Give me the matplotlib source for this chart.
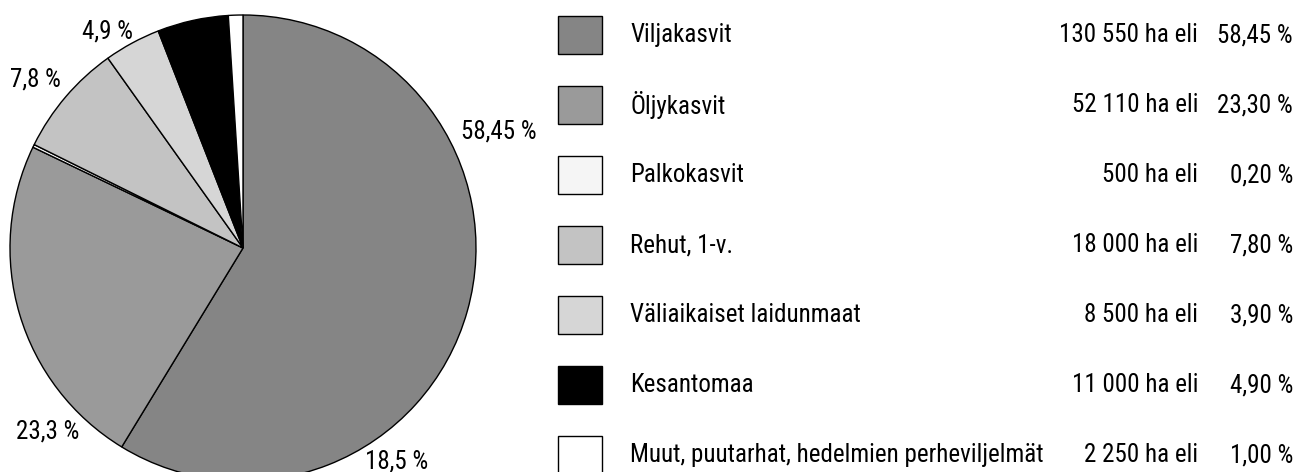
import matplotlib
matplotlib.use("Agg")
import matplotlib.pyplot as plt
from matplotlib.patches import Rectangle

categories = ["Viljakasvit", "Öljykasvit", "Palkokasvit", "Rehut, 1-v.",
              "Väliaikaiset laidunmaat", "Kesantomaa",
              "Muut, puutarhat, hedelmien perheviljelmät"]
hectares = ["130 550", "52 110", "500", "18 000", "8 500", "11 000", "2 250"]
percent = [58.45, 23.30, 0.20, 7.80, 3.90, 4.90, 1.00]
percent_labels = ["58,45 %", "23,30 %", "0,20 %", "7,80 %", "3,90 %", "4,90 %", "1,00 %"]
colors = ["#858585", "#9a9a9a", "#f5f5f5", "#c3c3c3", "#d6d6d6", "#000000", "#ffffff"]
# labels printed around the pie in the original
pie_labels = ["58,45 %", "23,3 %", "18,5 %", "7,8 %", "4,9 %"]

plt.rcParams['font.family'] = ['Roboto Condensed', 'DejaVu Sans']

W, H = 1301, 472
fig = plt.figure(figsize=(W / 100, H / 100), dpi=100)
ax = fig.add_axes([0, 0, 1, 1])

cx, cy, R = 243, H - 248, 233
ax.pie(percent, colors=colors, startangle=90, counterclock=False,
       center=(cx, cy), radius=R, frame=True,
       wedgeprops=dict(edgecolor='black', linewidth=1.0))
ax.set_xlim(0, W)
ax.set_ylim(0, H)
ax.set_aspect('equal')
ax.axis('off')

fs = 18
label_pos = [(499, 132), (48, 432), (397, 462), (35, 80), (107, 32)]
for txt, (x, y) in zip(pie_labels, label_pos):
    ax.text(x, H - y, txt, fontsize=fs, ha='center', va='center')

row0, step = 35, 70
for i, cat in enumerate(categories):
    yc = H - (row0 + i * step)
    ax.add_patch(Rectangle((558, yc - 19), 44, 38, facecolor=colors[i],
                           edgecolor='black', linewidth=1.0))
    ax.text(630, yc, cat, fontsize=fs, ha='left', va='center')
    ax.text(1198, yc, f"{hectares[i]} ha eli", fontsize=fs, ha='right', va='center')
    ax.text(1293, yc, percent_labels[i], fontsize=fs, ha='right', va='center')

fig.savefig("out.png", dpi=100)
